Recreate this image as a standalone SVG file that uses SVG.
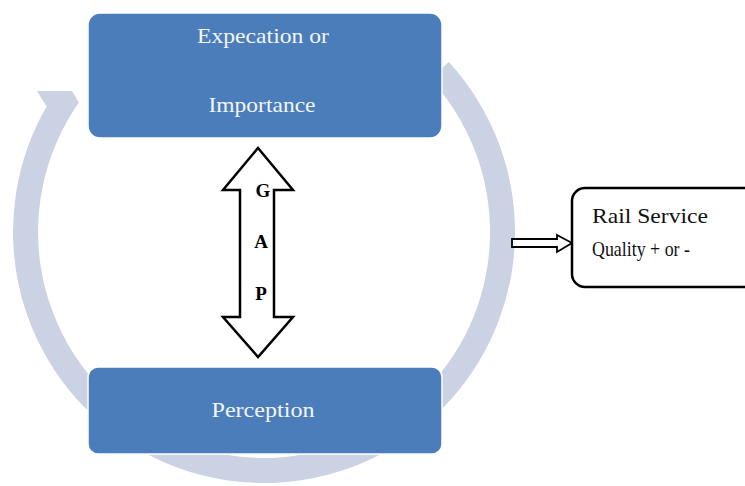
<svg xmlns="http://www.w3.org/2000/svg" width="745" height="486" viewBox="0 0 745 486">
<style>
.box{fill:#4a7dba;stroke:#ffffff;stroke-width:1.5}
.boxtxt{font-family:"Liberation Serif","Times New Roman",serif;font-size:22px;fill:#f2f6fb;text-anchor:middle}
.gap{font-family:"Liberation Serif","Times New Roman",serif;font-size:19px;font-weight:bold;fill:#000;text-anchor:middle}
.ol{fill:#ffffff;stroke:#000;stroke-linejoin:miter}
.rtxt{font-family:"Liberation Serif","Times New Roman",serif;font-size:21px;fill:#111}
</style>
<rect width="745" height="486" fill="#ffffff"/>
<g id="cycle">
<path d="M448.8 62.1 A251 251 0 1 1 46.6 106.5 L37 91 L72 91 L78.9 102.4 A226 226 0 1 0 430.4 79 Z" fill="#cad2e3"/>
</g>
<g id="connectors">
<polygon class="ol" stroke-width="2.5" points="258,148 293,190 274,190 274,317 293,317 258,357 223,317 240,317 240,190 223,190"/>
<polygon class="ol" stroke-width="1.8" points="512,239 557,239 557,235 572,243 557,252 557,247 512,247"/>
</g>
<g id="gap-label">
<text class="gap" x="263" y="197">G</text>
<text class="gap" x="261" y="248">A</text>
<text class="gap" x="261" y="300">P</text>
</g>
<g id="expectation">
<rect class="box" x="88" y="13" width="354" height="125" rx="12"/>
<text class="boxtxt" x="263" y="43" textLength="132" lengthAdjust="spacingAndGlyphs">Expecation or</text>
<text class="boxtxt" x="262" y="112" textLength="107" lengthAdjust="spacingAndGlyphs">Importance</text>
</g>
<g id="perception">
<rect class="box" x="88" y="367" width="354" height="87" rx="10"/>
<text class="boxtxt" x="263" y="417" textLength="103" lengthAdjust="spacingAndGlyphs">Perception</text>
</g>
<g id="rail">
<rect x="572" y="188" width="200" height="99" rx="13" fill="#ffffff" stroke="#000" stroke-width="2.5"/>
<text class="rtxt" x="592" y="223" textLength="116" lengthAdjust="spacingAndGlyphs">Rail Service</text>
<text class="rtxt" x="592" y="256" textLength="98" lengthAdjust="spacingAndGlyphs">Quality + or -</text>
</g>
</svg>
